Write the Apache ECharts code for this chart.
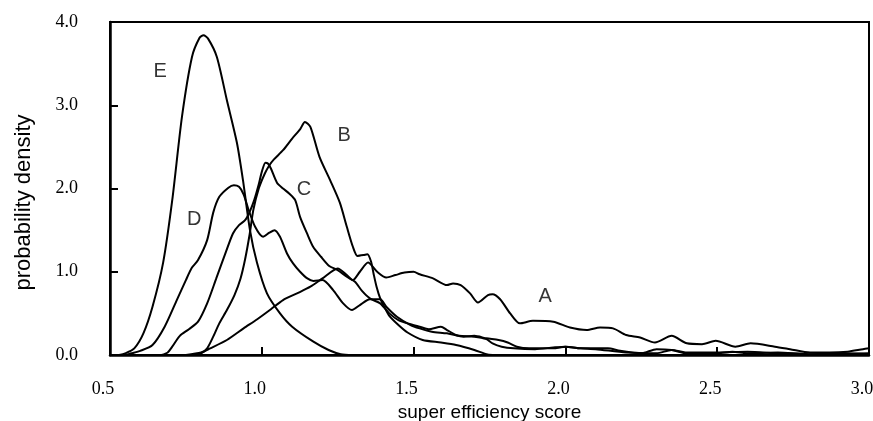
<!DOCTYPE html>
<html>
<head>
<meta charset="utf-8">
<script src="https://cdn.jsdelivr.net/npm/echarts@6/dist/echarts.min.js"></script>
<style>
html,body{margin:0;padding:0;background:#fff;}
#chart{width:873px;height:421px;}
</style>
</head>
<body>
<div id="chart"></div>
<script>
// ---- data ----
var xTicks = [0.5, 1.0, 1.5, 2.0, 2.5, 3.0];
var yTicks = [0.0, 1.0, 2.0, 3.0, 4.0];

var curveA = [[0.75,0],[0.80,0.03],[0.83,0.08],[0.885,0.18],[0.94,0.32],[0.985,0.43],[1.03,0.55],[1.07,0.66],[1.116,0.74],[1.16,0.82],[1.2,0.92],[1.25,1.04],[1.28,0.96],[1.30,0.9],[1.323,1.0],[1.35,1.11],[1.38,1.0],[1.41,0.93],[1.44,0.96],[1.47,0.99],[1.50,1.0],[1.52,0.97],[1.564,0.92],[1.61,0.84],[1.63,0.86],[1.655,0.84],[1.686,0.74],[1.712,0.63],[1.745,0.72],[1.76,0.73],[1.785,0.67],[1.818,0.50],[1.85,0.38],[1.893,0.41],[1.96,0.40],[2.015,0.33],[2.07,0.30],[2.114,0.33],[2.157,0.32],[2.2,0.24],[2.246,0.21],[2.295,0.15],[2.35,0.23],[2.40,0.14],[2.45,0.13],[2.495,0.17],[2.56,0.10],[2.61,0.14],[2.69,0.10],[2.74,0.07],[2.806,0.03],[2.87,0.03],[2.93,0.04],[2.98,0.07],[3.0,0.08]];

var curveB = [[0.78,0],[0.80,0.02],[0.82,0.08],[0.84,0.22],[0.86,0.38],[0.885,0.54],[0.91,0.72],[0.93,0.92],[0.945,1.15],[0.96,1.45],[0.972,1.74],[0.99,2.0],[1.01,2.18],[1.025,2.28],[1.04,2.35],[1.07,2.46],[1.10,2.6],[1.126,2.71],[1.142,2.8],[1.16,2.74],[1.19,2.38],[1.225,2.1],[1.257,1.83],[1.28,1.54],[1.30,1.3],[1.315,1.19],[1.335,1.2],[1.348,1.21],[1.36,1.12],[1.368,0.98],[1.378,0.82],[1.39,0.68],[1.406,0.56],[1.42,0.47],[1.45,0.36],[1.48,0.27],[1.53,0.18],[1.59,0.15],[1.64,0.12],[1.70,0.06],[1.74,0.01],[1.76,0]];

var curveC = [[0.67,0],[0.69,0.03],[0.705,0.1],[0.73,0.23],[0.76,0.31],[0.79,0.4],[0.82,0.62],[0.85,0.92],[0.88,1.22],[0.905,1.46],[0.925,1.56],[0.945,1.62],[0.96,1.72],[0.975,1.86],[0.99,2.05],[1.0,2.2],[1.012,2.31],[1.02,2.30],[1.03,2.24],[1.05,2.07],[1.07,2.0],[1.09,1.94],[1.11,1.86],[1.126,1.66],[1.149,1.46],[1.169,1.3],[1.195,1.18],[1.222,1.07],[1.25,1.02],[1.28,0.94],[1.307,0.88],[1.33,0.77],[1.356,0.68],[1.39,0.62],[1.42,0.5],[1.45,0.42],[1.49,0.37],[1.52,0.34],[1.55,0.31],[1.59,0.34],[1.61,0.30],[1.64,0.24],[1.665,0.22],[1.70,0.23],[1.74,0.20],[1.78,0.18],[1.81,0.15],[1.84,0.10],[1.88,0.08],[1.96,0.08],[2.0,0.10],[2.05,0.08],[2.14,0.08],[2.18,0.05],[2.25,0.02],[2.3,0.07],[2.35,0.06],[2.4,0.02],[2.5,0.02],[2.55,0.04],[2.6,0.02],[2.7,0.03],[2.8,0.01],[2.9,0.02],[3.0,0.01]];

var curveD = [[0.55,0],[0.57,0.02],[0.6,0.05],[0.64,0.12],[0.68,0.34],[0.72,0.66],[0.75,0.9],[0.77,1.05],[0.79,1.14],[0.82,1.38],[0.84,1.71],[0.86,1.9],[0.89,2.01],[0.908,2.04],[0.925,2.02],[0.94,1.93],[0.955,1.76],[0.978,1.54],[1.004,1.42],[1.025,1.47],[1.042,1.50],[1.06,1.42],[1.083,1.22],[1.103,1.1],[1.126,1.0],[1.15,0.92],[1.17,0.89],[1.2,0.9],[1.235,0.78],[1.268,0.62],[1.297,0.54],[1.323,0.60],[1.356,0.67],[1.39,0.67],[1.41,0.58],[1.445,0.46],[1.49,0.36],[1.52,0.32],[1.56,0.28],[1.61,0.26],[1.65,0.23],[1.70,0.22],[1.74,0.19],[1.76,0.14],[1.79,0.10],[1.83,0.08],[1.9,0.07],[1.96,0.09],[2.0,0.1],[2.05,0.08],[2.1,0.07],[2.2,0.03],[2.3,0.02],[2.35,0.06],[2.4,0.03],[2.5,0.03],[2.6,0.04],[2.7,0.02],[2.8,0.01],[2.9,0.01],[3.0,0.02]];

var curveE = [[0.53,0],[0.55,0.02],[0.58,0.08],[0.61,0.26],[0.64,0.58],[0.675,1.11],[0.705,1.86],[0.737,2.86],[0.77,3.58],[0.795,3.81],[0.808,3.84],[0.823,3.80],[0.852,3.58],[0.885,3.06],[0.918,2.55],[0.938,2.10],[0.961,1.50],[0.984,1.11],[1.017,0.74],[1.06,0.50],[1.10,0.34],[1.17,0.16],[1.22,0.06],[1.26,0.01],[1.30,0]];

var curveNames = ['A','B','C','D','E'];
var curveLabelAt = [[1.933,0.70],[1.271,2.64],[1.139,1.99],[0.777,1.63],[0.665,3.40]];

// ---- chart ----
var chart = echarts.init(document.getElementById('chart'), null, {renderer:'canvas'});
var curves = [curveA, curveB, curveC, curveD, curveE];
var series = curves.map(function(c, i){
  return {
    name: curveNames[i], type:'line', data:c, showSymbol:false,
    smooth:0.25, silent:true,
    lineStyle:{color:'#000', width:2}
  };
});
series.push({
  type:'scatter', silent:true, symbolSize:0,
  data: curveLabelAt.map(function(p,i){ return {value:p, name:curveNames[i]}; }),
  label:{show:true, position:'inside', formatter:function(p){return p.name;},
         color:'#000', fontFamily:'Liberation Sans, Arial, sans-serif', fontSize:20}
});

chart.setOption({
  animation:false,
  backgroundColor:'#fff',
  grid:{left:110, right:4, top:22, bottom:66, show:true, borderColor:'#000', borderWidth:2,
        containLabel:false, outerBoundsMode:'none'},
  xAxis:{
    type:'value', min:xTicks[0], max:xTicks[xTicks.length-1], interval:0.5,
    name:'super efficiency score', nameLocation:'middle', nameGap:45,
    nameTextStyle:{fontFamily:'Liberation Sans, Arial, sans-serif', fontSize:19, color:'#000'},
    axisLine:{lineStyle:{color:'#000', width:2.5}},
    axisTick:{inside:true, length:8, lineStyle:{color:'#000', width:2}},
    splitLine:{show:false},
    axisLabel:{margin:25, color:'#000', fontFamily:'Liberation Serif, Times New Roman, serif', fontSize:18,
      padding:[0,14,0,0], formatter:function(v){return v.toFixed(1);}}
  },
  yAxis:{
    type:'value', min:yTicks[0], max:yTicks[yTicks.length-1], interval:1,
    name:'probability density', nameLocation:'middle', nameGap:75, nameRotate:90,
    nameTextStyle:{fontFamily:'Liberation Sans, Arial, sans-serif', fontSize:22, color:'#000', padding:[0,28,0,0]},
    axisLine:{show:true, lineStyle:{color:'#000', width:2.5}},
    axisTick:{show:true, inside:true, length:8, lineStyle:{color:'#000', width:2}},
    splitLine:{show:false},
    axisLabel:{margin:32, color:'#000', fontFamily:'Liberation Serif, Times New Roman, serif', fontSize:18,
      formatter:function(v){return v.toFixed(1);}}
  },
  series:series
});
</script>
</body>
</html>
